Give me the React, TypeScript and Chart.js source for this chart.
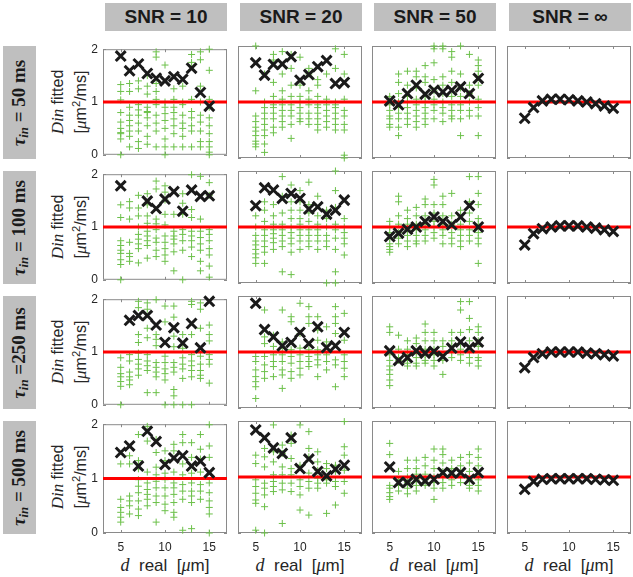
import React, { useEffect, useRef } from "react";
import { Chart, registerables } from "chart.js";
Chart.register(...registerables);

// ---------- data ----------
const dValues = [5, 6, 7, 8, 9, 10, 11, 12, 13, 14, 15];
const xTicks = [5, 10, 15];
const yTicks = [0, 1, 2];
const trueDin = 1;
const snrLabels = ["SNR = 10", "SNR = 20", "SNR = 50", "SNR = \u221E"];
const tauLabels = [" = 50 ms", " = 100 ms", " =250 ms", " = 500 ms"];

// mean fitted Din (black crosses), null = outside plotted range
const meanT50S10 = [1.87, 1.59, 1.72, 1.54, 1.45, 1.40, 1.48, 1.43, 1.64, 1.18, 0.92];
const meanT50S20 = [1.70, 1.48, 1.67, 1.68, 1.81, 1.39, 1.49, 1.63, 1.74, 1.33, 1.35];
const meanT50S50 = [1.02, 0.95, 1.15, 1.30, 1.14, 1.21, 1.18, 1.21, 1.27, 1.15, 1.42];
const meanT50Sinf = [0.71, 0.90, 1.02, 1.05, 1.05, 1.04, 1.02, 1.00, 0.97, 0.93, 0.89];

const meanT100S10 = [1.78, null, null, 1.49, 1.35, 1.53, 1.67, 1.30, 1.70, 1.58, 1.59];
const meanT100S20 = [1.38, 1.70, 1.66, 1.51, 1.60, 1.51, 1.32, 1.36, 1.23, 1.30, 1.48];
const meanT100S50 = [0.83, 0.89, 0.96, 1.00, 1.10, 1.18, 1.10, 1.04, 1.18, 1.38, 1.00];
const meanT100Sinf = [0.68, 0.88, 0.97, 1.00, 1.02, 1.02, 1.02, 1.00, 0.98, 0.95, 0.92];

const meanT250S10 = [null, 1.60, 1.69, 1.69, 1.51, 1.18, 1.46, 1.17, 1.54, 1.08, 1.96];
const meanT250S20 = [1.87, 1.40, 1.27, 1.11, 1.17, 1.35, 1.15, 1.45, 1.08, 1.11, 1.35];
const meanT250S50 = [1.02, 0.85, 0.90, 1.02, 0.98, 1.01, 0.92, 1.07, 1.18, 1.08, 1.18];
const meanT250Sinf = [0.72, 0.90, 0.97, 1.00, 1.00, 1.00, 1.00, 0.98, 0.97, 0.95, 0.93];

const meanT500S10 = [1.48, 1.60, 1.23, 1.87, 1.68, 1.26, 1.38, 1.42, 1.23, 1.32, 1.11];
const meanT500S20 = [1.84, 1.70, 1.52, 1.42, 1.70, 1.15, 1.32, 1.10, 1.02, 1.14, 1.21];
const meanT500S50 = [1.18, 0.90, 0.90, 0.96, 0.93, 0.96, 1.08, 1.07, 1.08, 0.96, 1.08];
const meanT500Sinf = [0.78, 0.92, 0.96, 0.97, 0.97, 0.97, 0.97, 0.97, 0.96, 0.95, 0.94];

// individual fits (green pluses), one list per d value
const fitsT50S10 = [
  [1.33, 1.2, 1.04, 0.8, 0.62, 0.5, 0.42, 0.4, 0.3, 0.0],
  [1.35, 1.2, 0.9, 0.75, 0.65, 0.55, 0.45, 0.35, 0.15],
  [1.4, 1.25, 0.95, 0.85, 0.75, 0.6, 0.45, 0.25, 0.12],
  [1.5, 1.3, 1.15, 0.9, 0.82, 0.8, 0.7, 0.55, 0.35, 0.2],
  [1.95, 1.85, 1.35, 1.2, 1.05, 0.95, 0.75, 0.6, 0.45, 0.15],
  [1.7, 1.0, 0.9, 0.78, 0.65, 0.5, 0.3, 0.15, 0.0],
  [1.25, 1.05, 0.9, 0.8, 0.68, 0.55, 0.4, 0.15],
  [1.3, 1.0, 0.95, 0.75, 0.6, 0.5, 0.35, 0.15],
  [1.9, 1.75, 1.05, 0.82, 0.7, 0.55, 0.45, 0.15],
  [1.95, 1.8, 1.3, 1.0, 0.75, 0.62, 0.45, 0.25, 0.15],
  [2.0, 1.6, 1.05, 0.9, 0.7, 0.55, 0.4, 0.25, 0.15, 0.05, 0.0],
];
const fitsT50S20 = [
  [2.0, 1.2, 0.75, 0.65, 0.55, 0.48, 0.4, 0.3, 0.25, 0.2],
  [1.5, 1.0, 0.9, 0.8, 0.7, 0.6, 0.5, 0.4, 0.25, 0.1],
  [1.85, 1.75, 1.35, 1.1, 0.95, 0.9, 0.8, 0.7, 0.55, 0.45],
  [1.9, 1.5, 1.2, 1.05, 0.95, 0.85, 0.75, 0.65, 0.55],
  [1.85, 1.6, 1.3, 1.1, 0.95, 0.85, 0.75, 0.6, 0.35],
  [1.8, 1.3, 1.1, 1.0, 0.9, 0.8, 0.7, 0.65],
  [1.6, 1.5, 1.2, 1.05, 0.95, 0.8, 0.7, 0.6],
  [1.4, 1.3, 1.1, 0.95, 0.9, 0.8, 0.7, 0.6, 0.5],
  [1.5, 1.05, 0.95, 0.85, 0.75, 0.65, 0.55],
  [1.95, 1.6, 1.0, 0.95, 0.9, 0.8, 0.7, 0.6, 0.5],
  [1.85, 1.5, 1.05, 0.85, 0.75, 0.6, 0.5, 0.05, 0.0],
];
const fitsT50S50 = [
  [1.1, 0.95, 0.85, 0.75, 0.7, 0.6, 0.55],
  [1.5, 1.35, 1.15, 1.0, 0.9, 0.8, 0.7, 0.55, 0.4],
  [1.55, 1.3, 1.1, 1.0, 0.9, 0.8, 0.7, 0.6],
  [1.55, 1.45, 1.25, 1.05, 0.95, 0.85, 0.75, 0.65, 0.55],
  [1.65, 1.45, 1.35, 1.1, 1.0, 0.9, 0.8, 0.7, 0.6],
  [2.0, 1.95, 1.7, 1.4, 1.2, 1.05, 0.95, 0.85, 0.7],
  [2.0, 1.95, 1.45, 1.3, 1.15, 1.0, 0.9, 0.8, 0.65],
  [1.9, 1.8, 1.55, 1.35, 1.1, 0.95, 0.85, 0.75, 0.7],
  [2.0, 1.5, 1.25, 1.1, 0.95, 0.85, 0.7, 0.4],
  [1.85, 1.3, 1.15, 1.0, 0.85, 0.75],
  [1.75, 1.65, 1.55, 1.45, 1.3, 1.05, 0.9, 0.75, 0.4],
];
const fitsT100S10 = [
  [1.42, 1.18, 0.74, 0.65, 0.56, 0.5, 0.38, 0.29, 0.0],
  [1.48, 1.36, 1.15, 0.71, 0.5, 0.44, 0.35],
  [1.6, 1.36, 1.21, 1.0, 0.86, 0.77, 0.68, 0.59, 0.32],
  [1.63, 1.42, 1.21, 1.07, 0.92, 0.83, 0.74, 0.65, 0.41],
  [1.87, 1.72, 1.15, 1.06, 0.95, 0.79, 0.71, 0.56, 0.44],
  [1.78, 1.66, 1.51, 1.24, 1.04, 0.83, 0.71, 0.59, 0.47, 0.35],
  [1.24, 0.92, 0.83, 0.77, 0.68, 0.53, 0.17],
  [1.63, 1.45, 1.24, 0.95, 0.86, 0.74, 0.56, 0.0],
  [1.99, 1.33, 1.18, 0.92, 0.83, 0.74, 0.62, 0.44],
  [1.96, 1.15, 0.92, 0.8, 0.68, 0.56, 0.35, 0.17],
  [1.84, 1.6, 0.95, 0.86, 0.74, 0.59, 0.47, 0.26, 0.05],
];
const fitsT100S20 = [
  [1.2, 1.0, 0.85, 0.75, 0.68, 0.6, 0.52, 0.45, 0.35],
  [1.45, 1.3, 1.1, 0.95, 0.85, 0.75, 0.65, 0.55, 0.35],
  [1.4, 1.2, 1.05, 0.95, 0.88, 0.8, 0.72, 0.6],
  [1.9, 1.55, 1.25, 1.05, 0.95, 0.85, 0.75, 0.65, 0.2],
  [1.75, 1.45, 1.3, 1.15, 1.0, 0.9, 0.8, 0.7, 0.55, 0.15],
  [1.65, 1.45, 1.3, 1.15, 1.05, 0.95, 0.85, 0.75, 0.6],
  [1.8, 1.4, 1.25, 1.1, 0.95, 0.85, 0.75, 0.65],
  [1.55, 1.2, 1.05, 0.95, 0.85, 0.75, 0.6],
  [1.3, 1.15, 1.0, 0.85, 0.75, 0.65, 0.0],
  [2.0, 1.65, 1.35, 1.05, 0.95, 0.8, 0.6, 0.2, 0.0],
  [1.15, 1.0, 0.9, 0.8, 0.7, 0.5],
];
const fitsT100S50 = [
  [1.1, 1.0, 0.9, 0.8, 0.7, 0.65, 0.6, 0.55],
  [1.55, 1.45, 1.2, 1.05, 0.9, 0.8, 0.7],
  [1.3, 1.15, 1.05, 0.95, 0.85, 0.75, 0.65],
  [1.35, 1.2, 1.05, 0.95, 0.85, 0.75, 0.7],
  [1.5, 1.4, 1.2, 1.05, 0.95, 0.85, 0.75],
  [1.85, 1.75, 1.4, 1.25, 1.1, 1.0, 0.9, 0.8],
  [1.55, 1.4, 1.2, 1.05, 0.95, 0.85, 0.7],
  [1.6, 1.2, 1.05, 0.9, 0.8, 0.7],
  [1.3, 1.2, 1.05, 0.95, 0.85, 0.75, 0.65],
  [1.9, 1.45, 1.25, 1.1, 0.95, 0.85, 0.75],
  [1.9, 1.6, 1.4, 1.15, 1.05, 0.9, 0.8, 0.7, 0.35],
];
const fitsT250S10 = [
  [0.89, 0.71, 0.59, 0.53, 0.44, 0.35, 0.0],
  [0.95, 0.83, 0.62, 0.53, 0.47, 0.38],
  [1.96, 1.84, 1.33, 1.18, 0.98, 0.86, 0.77, 0.68, 0.56],
  [1.93, 1.81, 1.45, 1.27, 0.95, 0.83, 0.74, 0.65, 0.23],
  [1.99, 1.33, 1.24, 1.12, 0.8, 0.71, 0.62, 0.53, 0.23],
  [1.87, 1.57, 0.92, 0.8, 0.68, 0.59, 0.47, 0.0],
  [1.87, 1.66, 1.3, 1.1, 0.8, 0.71, 0.62, 0.29, 0.17, 0.0],
  [1.33, 1.07, 0.89, 0.77, 0.68, 0.5, 0.0],
  [1.96, 1.9, 1.33, 0.95, 0.83, 0.74, 0.65, 0.53, 0.0],
  [1.93, 1.81, 1.45, 0.92, 0.77, 0.65, 0.56, 0.5],
  [1.51, 1.33, 1.21, 0.95, 0.86, 0.77, 0.41],
];
const fitsT250S20 = [
  [0.92, 0.83, 0.68, 0.56, 0.47, 0.38, 0.17],
  [1.75, 1.27, 1.15, 0.92, 0.77, 0.65, 0.53],
  [1.3, 1.1, 0.95, 0.83, 0.74, 0.56],
  [1.75, 1.18, 1.07, 0.95, 0.83, 0.68, 0.59, 0.35],
  [1.63, 1.54, 1.04, 0.92, 0.8, 0.65, 0.53],
  [1.87, 1.33, 1.07, 0.95, 0.83, 0.71, 0.59],
  [1.81, 1.63, 1.51, 1.04, 0.92, 0.83, 0.74],
  [1.63, 1.39, 1.21, 1.04, 0.95, 0.86, 0.77, 0.56],
  [1.45, 1.18, 0.95, 0.83, 0.68],
  [1.81, 1.63, 1.51, 1.33, 0.86, 0.77, 0.38],
  [1.69, 1.21, 0.95, 0.83, 0.71, 0.56],
];
const fitsT250S50 = [
  [1.45, 1.35, 0.95, 0.85, 0.75, 0.68, 0.6, 0.5, 0.4],
  [1.3, 1.05, 0.9, 0.85],
  [1.2, 1.05, 0.95, 0.85, 0.8, 0.75],
  [1.25, 1.15, 1.0, 0.9, 0.8, 0.75],
  [1.5, 1.35, 1.2, 1.05, 0.95, 0.85, 0.8],
  [1.35, 1.2, 1.05, 0.95, 0.85, 0.75],
  [1.2, 1.1, 0.95, 0.85, 0.6],
  [1.35, 1.2, 1.1, 1.0, 0.9],
  [1.9, 1.75, 1.35, 1.15, 1.05, 0.95, 0.85],
  [1.9, 1.6, 1.4, 1.2, 1.0, 0.9, 0.8],
  [1.45, 1.35, 1.2, 1.1, 0.9, 0.85, 0.75],
];
const fitsT500S10 = [
  [1.27, 0.62, 0.47, 0.38, 0.29, 0.2],
  [1.42, 1.27, 0.68, 0.59, 0.5, 0.35],
  [1.81, 1.33, 1.18, 0.98, 0.86, 0.74, 0.59, 0.44, 0.32],
  [1.96, 1.69, 1.12, 0.92, 0.8, 0.71, 0.62, 0.5],
  [1.72, 1.48, 1.21, 1.07, 0.95, 0.83, 0.68, 0.56, 0.2],
  [1.51, 1.33, 1.1, 0.98, 0.83, 0.68, 0.53, 0.41],
  [1.63, 1.51, 1.12, 0.92, 0.83, 0.71, 0.56, 0.38, 0.29],
  [1.81, 1.66, 1.27, 1.07, 0.89, 0.77, 0.62, 0.05],
  [1.66, 1.39, 1.1, 0.92, 0.77, 0.68, 0.56, 0.08],
  [1.81, 1.54, 1.36, 1.12, 0.89, 0.77, 0.62],
  [1.99, 1.6, 1.39, 0.92, 0.74, 0.59, 0.47, 0.35, 0.0],
];
const fitsT500S20 = [
  [1.39, 1.24, 0.95, 0.83, 0.71, 0.59, 0.53, 0.05],
  [1.51, 1.36, 1.18, 0.89, 0.8, 0.68, 0.47, 0.0],
  [1.93, 1.45, 1.27, 1.04, 0.92, 0.83, 0.74],
  [1.57, 1.42, 1.18, 1.04, 0.89, 0.77, 0.17],
  [1.75, 1.6, 1.33, 1.15, 1.04, 0.89, 0.74],
  [1.93, 1.21, 0.95, 0.83, 0.68, 0.41],
  [1.81, 1.51, 1.36, 1.07, 0.92, 0.8, 0.32],
  [1.45, 1.27, 1.12, 0.98, 0.89, 0.8],
  [1.24, 1.15, 0.95, 0.89, 0.35],
  [1.21, 1.1, 0.92, 0.83, 0.5],
  [1.99, 1.54, 1.39, 1.12, 0.92, 0.71],
];
const fitsT500S50 = [
  [1.6, 1.4, 0.85, 0.8, 0.72, 0.65, 0.6],
  [1.1, 0.95, 0.85, 0.75],
  [1.3, 1.15, 1.0, 0.9, 0.8, 0.7],
  [1.3, 1.15, 1.05, 0.95, 0.85, 0.75],
  [1.35, 1.2, 1.05, 0.95, 0.85],
  [1.5, 1.3, 1.15, 1.0, 0.9, 0.8, 0.6],
  [1.5, 1.4, 1.25, 1.1, 1.0, 0.9, 0.8],
  [1.3, 1.15, 1.05, 0.95, 0.85],
  [1.35, 1.2, 1.1, 1.0, 0.9],
  [1.4, 1.25, 1.1, 0.95, 0.85, 0.8],
  [1.5, 1.35, 1.2, 1.05, 0.95, 0.85, 0.75],
];
const noFits: number[][] = [];

// ---------- layout ----------
const colLeft = [103, 238, 372, 507];
const rowTop = [46, 171, 296, 421];
const PW = 124;
const PH = 112;
const PAD = 9;
const YAX = 24;
const XAX = 26;

const SANS = "Arial, 'Liberation Sans', Helvetica, sans-serif";
const SERIF = "'Times New Roman', 'Liberation Serif', Times, serif";
const HEADER_GRAY = "#bfbfbf";
const TEXT = "#262626";

const panels = [
  [
    { mean: meanT50S10, fits: fitsT50S10 },
    { mean: meanT50S20, fits: fitsT50S20 },
    { mean: meanT50S50, fits: fitsT50S50 },
    { mean: meanT50Sinf, fits: noFits },
  ],
  [
    { mean: meanT100S10, fits: fitsT100S10 },
    { mean: meanT100S20, fits: fitsT100S20 },
    { mean: meanT100S50, fits: fitsT100S50 },
    { mean: meanT100Sinf, fits: noFits },
  ],
  [
    { mean: meanT250S10, fits: fitsT250S10 },
    { mean: meanT250S20, fits: fitsT250S20 },
    { mean: meanT250S50, fits: fitsT250S50 },
    { mean: meanT250Sinf, fits: noFits },
  ],
  [
    { mean: meanT500S10, fits: fitsT500S10 },
    { mean: meanT500S20, fits: fitsT500S20 },
    { mean: meanT500S50, fits: fitsT500S50 },
    { mean: meanT500Sinf, fits: noFits },
  ],
];

const framePlugin = {
  id: "matlabFrame",
  beforeDatasetsDraw(chart: any) {
    const { ctx, chartArea, scales } = chart;
    const { left, top, right, bottom } = chartArea;
    ctx.save();
    ctx.strokeStyle = "#8a8a8a";
    ctx.lineWidth = 1;
    ctx.strokeRect(left + 0.5, top + 0.5, right - left - 1, bottom - top - 1);
    ctx.beginPath();
    for (const v of xTicks) {
      const px = Math.round(scales.x.getPixelForValue(v)) + 0.5;
      ctx.moveTo(px, bottom);
      ctx.lineTo(px, bottom - 3);
      ctx.moveTo(px, top);
      ctx.lineTo(px, top + 3);
    }
    for (const v of yTicks) {
      const py = Math.round(scales.y.getPixelForValue(v)) + 0.5;
      ctx.moveTo(left, py);
      ctx.lineTo(left + 3, py);
      ctx.moveTo(right, py);
      ctx.lineTo(right - 3, py);
    }
    ctx.stroke();
    ctx.restore();
  },
};

function Panel({ r, c }: { r: number; c: number }) {
  const ref = useRef<HTMLCanvasElement | null>(null);
  const showY = c === 0;
  const showX = r === 3;
  const w = PW + 2 * PAD + (showY ? YAX : 0);
  const h = PH + 2 * PAD + (showX ? XAX : 0);
  const left = colLeft[c] - PAD - (showY ? YAX : 0);
  const top = rowTop[r] - PAD;

  useEffect(() => {
    const { mean, fits } = panels[r][c];
    const meanPts = dValues
      .map((x, i) => ({ x, y: mean[i] }))
      .filter((p) => p.y !== null && p.y !== undefined);
    const fitPts = fits.length
      ? dValues.flatMap((x, i) => fits[i].map((y) => ({ x, y })))
      : [];
    const chart = new Chart(ref.current as HTMLCanvasElement, {
      type: "scatter",
      data: {
        datasets: [
          {
            data: meanPts,
            pointStyle: "crossRot",
            pointRadius: 7,
            pointBorderWidth: 3,
            borderColor: "#1a1a1a",
            backgroundColor: "#1a1a1a",
            showLine: false,
            clip: false,
            order: 0,
          } as any,
          {
            data: [
              { x: 3, y: trueDin },
              { x: 17, y: trueDin },
            ],
            showLine: true,
            borderColor: "#ff0000",
            borderWidth: 3,
            pointRadius: 0,
            order: 1,
          } as any,
          {
            data: fitPts,
            pointStyle: "cross",
            pointRadius: 3.5,
            pointBorderWidth: 1,
            borderColor: "#6cc04a",
            backgroundColor: "#6cc04a",
            showLine: false,
            clip: false,
            order: 2,
          } as any,
        ],
      },
      options: {
        responsive: false,
        animation: false,
        events: [],
        layout: { padding: PAD, autoPadding: false },
        plugins: { legend: { display: false }, tooltip: { enabled: false } },
        scales: {
          x: {
            type: "linear",
            min: 3,
            max: 17,
            display: showX,
            grid: { display: false, drawTicks: false },
            border: { display: false },
            afterBuildTicks: (s: any) => {
              s.ticks = xTicks.map((v) => ({ value: v }));
            },
            afterFit: (s: any) => {
              s.height = showX ? XAX : 0;
            },
            ticks: {
              padding: 7,
              maxRotation: 0,
              color: TEXT,
              font: { family: SANS, size: 12 },
              callback: (v: any) => String(v),
            },
          },
          y: {
            type: "linear",
            min: 0,
            max: 2,
            display: showY,
            grid: { display: false, drawTicks: false },
            border: { display: false },
            afterBuildTicks: (s: any) => {
              s.ticks = yTicks.map((v) => ({ value: v }));
            },
            afterFit: (s: any) => {
              s.width = showY ? YAX : 0;
            },
            ticks: {
              padding: 5,
              color: TEXT,
              font: { family: SANS, size: 12 },
              callback: (v: any) => String(v),
            },
          },
        },
      },
      plugins: [framePlugin],
    });
    return () => chart.destroy();
  }, [r, c]);

  return (
    <canvas
      ref={ref}
      width={w}
      height={h}
      style={{ position: "absolute", left, top, width: w, height: h }}
    />
  );
}

function Rotated({ cx, cy, children, style }: any) {
  return (
    <div
      style={{
        position: "absolute",
        left: cx,
        top: cy,
        transform: "translate(-50%, -50%) rotate(-90deg)",
        whiteSpace: "pre",
        lineHeight: 1,
        ...style,
      }}
    >
      {children}
    </div>
  );
}

export default function App() {
  return (
    <div
      style={{
        position: "fixed",
        left: 0,
        top: 0,
        width: 633,
        height: 577,
        background: "#fff",
        overflow: "hidden",
      }}
    >
      {snrLabels.map((s, c) => (
        <div
          key={"h" + c}
          style={{
            position: "absolute",
            left: colLeft[c] + 2,
            top: 3,
            width: 122,
            height: 28,
            background: HEADER_GRAY,
            display: "flex",
            alignItems: "center",
            justifyContent: "center",
            fontFamily: SANS,
            fontWeight: "bold",
            fontSize: 19,
            color: "#1a1a1a",
            whiteSpace: "pre",
          }}
        >
          {s}
        </div>
      ))}
      {tauLabels.map((t, r) => (
        <React.Fragment key={"r" + r}>
          <div
            style={{
              position: "absolute",
              left: 3,
              top: rowTop[r],
              width: 33,
              height: 113,
              background: HEADER_GRAY,
            }}
          />
          <Rotated
            cx={20}
            cy={rowTop[r] + 57}
            style={{ fontFamily: SERIF, fontWeight: "bold", fontSize: 19, color: "#1a1a1a" }}
          >
            <span style={{ fontStyle: "italic" }}>
              {"\u03C4"}
              <sub style={{ fontSize: "0.68em", verticalAlign: "-0.25em" }}>in</sub>
            </span>
            {t}
          </Rotated>
          <Rotated cx={57} cy={rowTop[r] + 56} style={{ fontFamily: SANS, fontSize: 16, color: TEXT }}>
            <span style={{ fontFamily: SERIF, fontStyle: "italic", fontSize: 17 }}>Din</span>
            {" fitted"}
          </Rotated>
          <Rotated cx={80} cy={rowTop[r] + 56} style={{ fontFamily: SANS, fontSize: 16, color: TEXT }}>
            {"["}
            <span style={{ fontFamily: SERIF, fontStyle: "italic", fontSize: 17 }}>{"\u03BC"}</span>
            {"m"}
            <sup style={{ fontSize: "0.7em", verticalAlign: "0.55em" }}>2</sup>
            {"/ms]"}
          </Rotated>
        </React.Fragment>
      ))}
      {colLeft.map((l, c) => (
        <div
          key={"xl" + c}
          style={{
            position: "absolute",
            left: l + PW / 2,
            top: 565,
            transform: "translate(-50%, -50%)",
            fontFamily: SANS,
            fontSize: 17,
            color: TEXT,
            whiteSpace: "pre",
            lineHeight: 1,
          }}
        >
          <span style={{ fontFamily: SERIF, fontStyle: "italic", fontSize: 18 }}>d</span>
          {"  real  ["}
          <span style={{ fontFamily: SERIF, fontStyle: "italic", fontSize: 18 }}>{"\u03BC"}</span>
          {"m]"}
        </div>
      ))}
      {panels.map((row, r) => row.map((_, c) => <Panel key={r + "-" + c} r={r} c={c} />))}
    </div>
  );
}
